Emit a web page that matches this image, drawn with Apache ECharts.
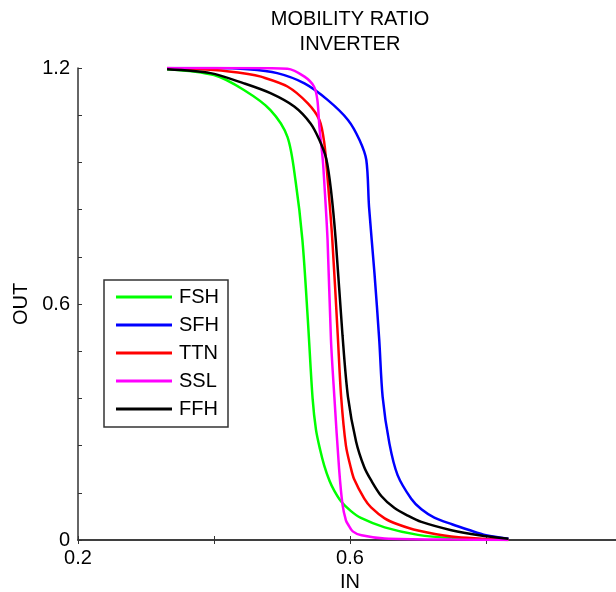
<!DOCTYPE html>
<html>
<head>
<meta charset="utf-8">
<script src="https://cdn.jsdelivr.net/npm/echarts@6/dist/echarts.min.js"></script>
<style>
html,body{margin:0;padding:0;background:#fff;overflow:hidden;}
#chart{width:616px;height:592px;}
</style>
</head>
<body>
<div id="chart"></div>
<script>
var titleText = "MOBILITY RATIO\nINVERTER";
var seriesNames = ["FSH", "SFH", "TTN", "SSL", "FFH"];
var seriesColors = ["#00ff00", "#0000ff", "#ff0000", "#ff00ff", "#000000"];

var fshX = [0.331, 0.40, 0.444, 0.483, 0.508, 0.520, 0.530, 0.538, 0.545, 0.550, 0.556, 0.562, 0.570, 0.577, 0.587, 0.601, 0.616, 0.651, 0.700, 0.750, 0.833];
var fshY = [1.197, 1.182, 1.144, 1.093, 1.025, 0.912, 0.763, 0.560, 0.36, 0.28, 0.23, 0.19, 0.15, 0.125, 0.098, 0.074, 0.056, 0.032, 0.013, 0.005, 0.0];

var sfhX = [0.331, 0.40, 0.45, 0.493, 0.533, 0.567, 0.597, 0.614, 0.624, 0.628, 0.636, 0.643, 0.648, 0.658, 0.670, 0.690, 0.705, 0.724, 0.750, 0.774, 0.800, 0.833];
var sfhY = [1.2, 1.2, 1.197, 1.187, 1.161, 1.119, 1.068, 1.017, 0.966, 0.847, 0.678, 0.509, 0.364, 0.245, 0.165, 0.105, 0.078, 0.057, 0.04, 0.026, 0.012, 0.003];

var ttnX = [0.331, 0.40, 0.45, 0.469, 0.508, 0.538, 0.555, 0.562, 0.567, 0.574, 0.582, 0.587, 0.594, 0.601, 0.606, 0.621, 0.631, 0.651, 0.670, 0.70, 0.749, 0.833];
var ttnY = [1.2, 1.195, 1.185, 1.178, 1.153, 1.11, 1.068, 1.012, 0.92, 0.763, 0.52, 0.364, 0.24, 0.185, 0.155, 0.105, 0.083, 0.055, 0.04, 0.024, 0.009, 0.0];

var sslX = [0.331, 0.45, 0.508, 0.533, 0.547, 0.552, 0.555, 0.560, 0.562, 0.567, 0.572, 0.577, 0.584, 0.589, 0.594, 0.597, 0.604, 0.617, 0.651, 0.75, 0.833];
var sslY = [1.2, 1.2, 1.198, 1.178, 1.153, 1.119, 1.051, 0.966, 0.915, 0.763, 0.509, 0.364, 0.18, 0.09, 0.05, 0.04, 0.022, 0.012, 0.004, 0.001, 0.0];

var ffhX = [0.331, 0.395, 0.444, 0.483, 0.518, 0.542, 0.555, 0.565, 0.572, 0.579, 0.589, 0.597, 0.609, 0.621, 0.631, 0.646, 0.665, 0.685, 0.705, 0.749, 0.790, 0.833];
var ffhY = [1.197, 1.187, 1.161, 1.136, 1.102, 1.059, 1.017, 0.97, 0.89, 0.763, 0.52, 0.364, 0.25, 0.185, 0.152, 0.112, 0.082, 0.062, 0.046, 0.025, 0.012, 0.003];

var xTickLabels = [0.2, 0.6];
var yTickLabels = [0, 0.6, 1.2];

var allX = [fshX, sfhX, ttnX, sslX, ffhX];
var allY = [fshY, sfhY, ttnY, sslY, ffhY];

function pairs(xs, ys) {
  var out = [];
  for (var i = 0; i < xs.length; i++) out.push([xs[i], ys[i]]);
  return out;
}
function inList(v, list) {
  for (var i = 0; i < list.length; i++) if (Math.abs(v - list[i]) < 1e-6) return true;
  return false;
}

var FONT = "Liberation Sans, Arial, Helvetica, sans-serif";
var AXC = "#333333";

var series = seriesNames.map(function (n, i) {
  return {
    name: n,
    type: "line",
    data: pairs(allX[i], allY[i]),
    showSymbol: false,
    symbol: "none",
    smooth: 0.3,
    lineStyle: { color: seriesColors[i], width: 2.5 },
    itemStyle: { color: seriesColors[i] },
    emphasis: { disabled: true },
    animation: false
  };
});

var chart = echarts.init(document.getElementById("chart"), null, { renderer: "canvas" });
chart.setOption({
  animation: false,
  backgroundColor: "#ffffff",
  title: {
    text: titleText,
    left: 350,
    top: 7,
    padding: 0,
    textAlign: "center",
    textStyle: { fontFamily: FONT, fontSize: 20, fontWeight: "normal", color: "#000", lineHeight: 25 }
  },
  legend: {
    orient: "vertical",
    left: 104,
    top: 280,
    padding: [7, 9, 8, 12],
    itemGap: 8,
    itemWidth: 56,
    itemHeight: 3,
    icon: "rect",
    borderColor: "#333",
    borderWidth: 1.5,
    backgroundColor: "#fff",
    data: seriesNames,
    textStyle: { fontFamily: FONT, fontSize: 20, color: "#000", lineHeight: 20, padding: [0, 0, 0, 2] },
    selectedMode: false
  },
  grid: { left: 78, top: 68, width: 544, height: 472, containLabel: false, outerBoundsMode: "none" },
  xAxis: [{
    type: "value", min: 0.2, max: 1.0, interval: 0.2, position: "bottom",
    name: "IN", nameLocation: "middle", nameGap: 32,
    nameTextStyle: { fontFamily: FONT, fontSize: 20, color: "#000" },
    axisLine: { show: true, lineStyle: { color: AXC, width: 1.5 } },
    axisTick: { show: true, inside: true, length: 4, lineStyle: { color: AXC } },
    splitLine: { show: false },
    axisLabel: {
      margin: 8, fontFamily: FONT, fontSize: 20, color: "#000",
      formatter: function (v) { return inList(v, xTickLabels) ? String(+v.toFixed(1)) : ""; }
    }
  }, {
    type: "value", min: 0.2, max: 1.0, interval: 0.2, position: "top",
    axisLine: { show: true, lineStyle: { color: AXC, width: 1.5 } },
    axisTick: { show: true, inside: true, length: 4, lineStyle: { color: AXC } },
    splitLine: { show: false },
    axisLabel: { show: false }
  }],
  yAxis: [{
    type: "value", min: 0, max: 1.2, interval: 0.12, position: "left",
    name: "OUT", nameLocation: "middle", nameGap: 46,
    nameTextStyle: { fontFamily: FONT, fontSize: 20, color: "#000" },
    axisLine: { show: true, lineStyle: { color: AXC, width: 1.5 } },
    axisTick: { show: true, inside: true, length: 4, lineStyle: { color: AXC } },
    splitLine: { show: false },
    axisLabel: {
      margin: 8, fontFamily: FONT, fontSize: 20, color: "#000",
      formatter: function (v) { return inList(v, yTickLabels) ? String(+v.toFixed(1)) : ""; }
    }
  }, {
    type: "value", min: 0, max: 1.2, interval: 0.12, position: "right",
    axisLine: { show: true, lineStyle: { color: AXC, width: 1.5 } },
    axisTick: { show: true, inside: true, length: 4, lineStyle: { color: AXC } },
    splitLine: { show: false },
    axisLabel: { show: false }
  }],
  series: series
});
</script>
</body>
</html>
